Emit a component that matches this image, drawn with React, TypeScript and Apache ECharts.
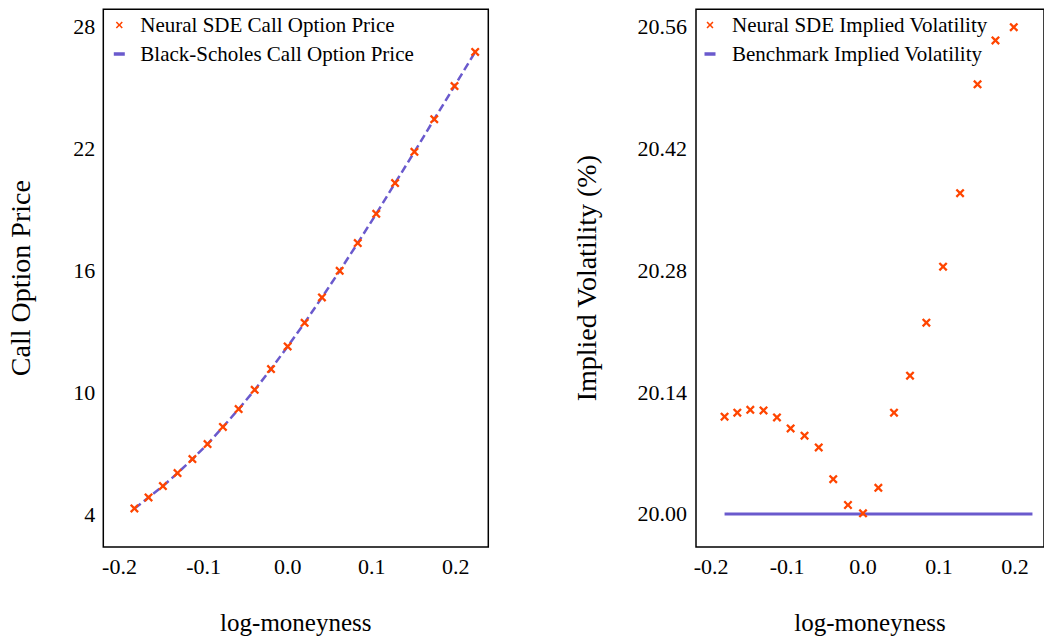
import React, { useEffect, useRef } from "react";
import * as echarts from "echarts";

// log-moneyness of the 21 strikes
const logMoneyness = [
  -0.1823, -0.1655, -0.1484, -0.131, -0.1133, -0.0953, -0.077, -0.0583, -0.0392, -0.0198, 0.0,
  0.0202, 0.0408, 0.0619, 0.0834, 0.1054, 0.1278, 0.1508, 0.1744, 0.1985, 0.2231,
];

// Neural SDE call option prices
const sdeCallPrice = [
  4.29, 4.83, 5.39, 6.03, 6.72, 7.46, 8.3, 9.18, 10.13, 11.15, 12.27, 13.43, 14.68, 15.99, 17.36,
  18.8, 20.31, 21.85, 23.46, 25.09, 26.77,
];

// Black-Scholes call option prices
const bsCallPrice = [
  4.28, 4.83, 5.39, 6.03, 6.72, 7.46, 8.3, 9.18, 10.13, 11.15, 12.27, 13.43, 14.68, 15.99, 17.36,
  18.8, 20.31, 21.85, 23.46, 25.09, 26.77,
];

// Neural SDE implied volatility (%), last strike lies above the plotted range
const sdeImpliedVol = [
  20.1118, 20.1164, 20.1198, 20.119, 20.111, 20.0983, 20.09, 20.0765, 20.04, 20.0103, 20.0007,
  20.03, 20.1164, 20.159, 20.22, 20.2844, 20.3688, 20.494, 20.5445, 20.5598,
];

// Benchmark implied volatility (%)
const benchmarkImpliedVol = [
  20, 20, 20, 20, 20, 20, 20, 20, 20, 20, 20, 20, 20, 20, 20, 20, 20, 20, 20, 20, 20,
];

// tick labels
const xTicks = [-0.2, -0.1, 0.0, 0.1, 0.2];
const priceTicks = [4, 10, 16, 22, 28];
const ivTicks = [20.0, 20.14, 20.28, 20.42, 20.56];

const FONT = "'Liberation Serif', 'Times New Roman', serif";
const MARKER_COLOR = "#ff4500";
const LINE_COLOR = "#6a5acd";

const X_PATH =
  "path://M0,1.8L1.8,0L5,3.2L8.2,0L10,1.8L6.8,5L10,8.2L8.2,10L5,6.8L1.8,10L0,8.2L3.2,5Z";
const LEGEND_X =
  "path://M0,0L0.01,0L0,0.01ZM20,14L19.99,14L20,13.99Z" +
  "M6.5,4.6L7.6,3.5L10,5.9L12.4,3.5L13.5,4.6L11.1,7L13.5,9.4L12.4,10.5L10,8.1L7.6,10.5L6.5,9.4L8.9,7Z";
const LEGEND_DASH =
  "path://M0,0L0.01,0L0,0.01ZM20,14L19.99,14L20,13.99Z" + "M4.5,5.25L15.5,5.25L15.5,8.75L4.5,8.75Z";

function zip(xs: number[], ys: number[]) {
  return ys.map((y, i) => [xs[i], y]);
}

export default function App() {
  const ref = useRef<HTMLDivElement>(null);

  useEffect(() => {
    if (!ref.current) return;
    const chart = echarts.init(ref.current, undefined, { renderer: "svg" });

    const axisLabelBase = { fontSize: 22, color: "#000", fontFamily: FONT };
    const legendText = {
      fontSize: 21,
      lineHeight: 21,
      color: "#000",
      fontFamily: FONT,
      padding: [0, 0, 0, 6],
    };

    chart.setOption({
      animation: false,
      backgroundColor: "#fff",
      textStyle: { fontFamily: FONT },
      grid: [
        {
          left: 103.3,
          top: 9.3,
          width: 385,
          height: 537.7,
          show: true,
          borderColor: "#000",
          borderWidth: 1.5,
          backgroundColor: "transparent",
        },
        {
          left: 696,
          top: 9.3,
          width: 353,
          height: 537.7,
          show: true,
          borderColor: "#000",
          borderWidth: 1.5,
          backgroundColor: "transparent",
        },
      ],
      legend: [
        {
          orient: "vertical",
          left: 109.3,
          top: 14.5,
          padding: 0,
          itemWidth: 20,
          itemHeight: 14,
          itemGap: 8,
          textStyle: legendText,
          data: [
            { name: "Neural SDE Call Option Price", icon: LEGEND_X },
            { name: "Black-Scholes Call Option Price", icon: LEGEND_DASH },
          ],
        },
        {
          orient: "vertical",
          left: 700,
          top: 14.5,
          padding: 0,
          itemWidth: 20,
          itemHeight: 14,
          itemGap: 8,
          textStyle: { ...legendText, padding: [0, 0, 0, 7] },
          data: [
            { name: "Neural SDE Implied Volatility", icon: LEGEND_X },
            { name: "Benchmark Implied Volatility", icon: LEGEND_DASH },
          ],
        },
      ],
      xAxis: [
        {
          type: "value",
          gridIndex: 0,
          min: -0.2193,
          max: 0.2387,
          axisLine: { show: false },
          axisTick: { show: false },
          splitLine: { show: false },
          axisLabel: {
            ...axisLabelBase,
            margin: 8,
            customValues: xTicks,
            formatter: (v: number) => v.toFixed(1),
          },
          name: "log-moneyness",
          nameLocation: "middle",
          nameGap: 63,
          nameTextStyle: { fontSize: 25, color: "#000", fontFamily: FONT },
        },
        {
          type: "value",
          gridIndex: 1,
          min: -0.2199,
          max: 0.2383,
          axisLine: { show: false },
          axisTick: { show: false },
          splitLine: { show: false },
          axisLabel: {
            ...axisLabelBase,
            margin: 8,
            customValues: xTicks,
            formatter: (v: number) => v.toFixed(1),
          },
          name: "log-moneyness",
          nameLocation: "middle",
          nameGap: 63,
          nameTextStyle: { fontSize: 25, color: "#000", fontFamily: FONT },
        },
      ],
      yAxis: [
        {
          type: "value",
          gridIndex: 0,
          min: 2.39,
          max: 28.87,
          axisLine: { show: false },
          axisTick: { show: false },
          splitLine: { show: false },
          axisLabel: {
            ...axisLabelBase,
            margin: 8,
            customValues: priceTicks,
            formatter: (v: number) => String(Math.round(v)),
          },
          name: "Call Option Price",
          nameLocation: "middle",
          nameGap: 69,
          nameTextStyle: { fontSize: 28, color: "#000", fontFamily: FONT },
        },
        {
          type: "value",
          gridIndex: 1,
          min: 19.962,
          max: 20.5803,
          axisLine: { show: false },
          axisTick: { show: false },
          splitLine: { show: false },
          axisLabel: {
            ...axisLabelBase,
            margin: 9,
            customValues: ivTicks,
            formatter: (v: number) => v.toFixed(2),
          },
          name: "Implied Volatility (%)",
          nameLocation: "middle",
          nameGap: 96,
          nameTextStyle: { fontSize: 28, color: "#000", fontFamily: FONT },
        },
      ],
      series: [
        {
          name: "Black-Scholes Call Option Price",
          type: "line",
          xAxisIndex: 0,
          yAxisIndex: 0,
          data: zip(logMoneyness, bsCallPrice),
          symbol: "none",
          showSymbol: false,
          itemStyle: { color: LINE_COLOR },
          lineStyle: { color: LINE_COLOR, width: 2.5, type: [8, 4] },
          z: 2,
        },
        {
          name: "Neural SDE Call Option Price",
          type: "scatter",
          xAxisIndex: 0,
          yAxisIndex: 0,
          data: zip(logMoneyness, sdeCallPrice),
          symbol: X_PATH,
          symbolSize: 9,
          itemStyle: { color: MARKER_COLOR, opacity: 1 },
          z: 3,
        },
        {
          name: "Benchmark Implied Volatility",
          type: "line",
          xAxisIndex: 1,
          yAxisIndex: 1,
          data: zip(logMoneyness, benchmarkImpliedVol),
          symbol: "none",
          showSymbol: false,
          itemStyle: { color: LINE_COLOR },
          lineStyle: { color: LINE_COLOR, width: 3, type: "solid" },
          z: 2,
        },
        {
          name: "Neural SDE Implied Volatility",
          type: "scatter",
          xAxisIndex: 1,
          yAxisIndex: 1,
          data: zip(logMoneyness, sdeImpliedVol),
          symbol: X_PATH,
          symbolSize: 9,
          itemStyle: { color: MARKER_COLOR, opacity: 1 },
          z: 3,
        },
      ],
    });

    return () => chart.dispose();
  }, []);

  return (
    <div
      ref={ref}
      style={{ position: "absolute", left: 0, top: 0, width: 1044, height: 642, background: "#fff" }}
    />
  );
}
